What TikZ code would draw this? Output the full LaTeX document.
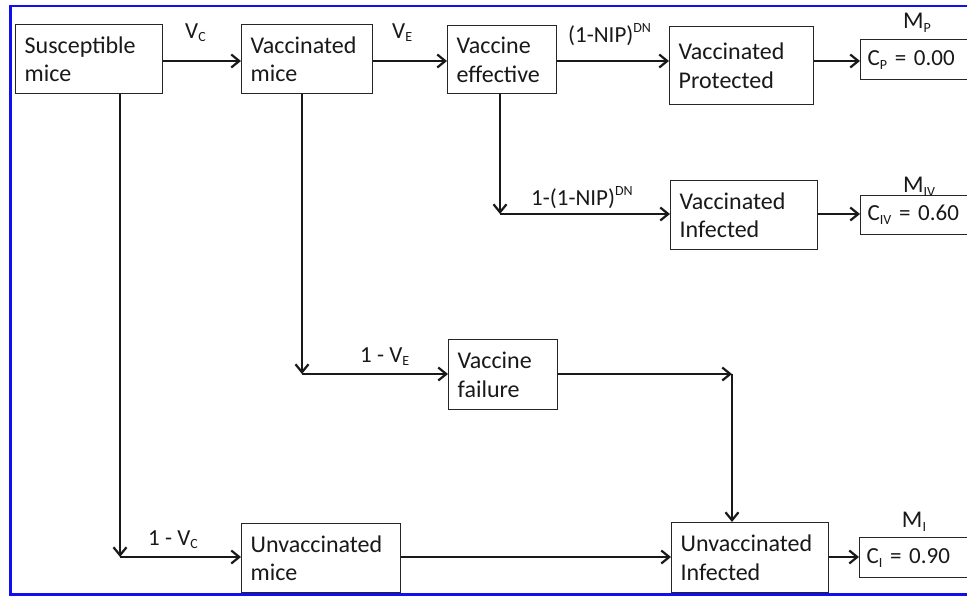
\documentclass[tikz,border=0pt]{standalone}
\usepackage{fontspec}
\setmainfont{Carlito}
\usetikzlibrary{arrows.meta}
\definecolor{frameblue}{RGB}{15,15,240}
\newcommand\lsb[1]{\raisebox{-0.35ex}{\fontsize{14}{14}\selectfont #1}}
\newcommand\lsp[1]{\raisebox{0.85ex}{\fontsize{14}{14}\selectfont #1}}
\begin{document}
\begin{tikzpicture}[x=1pt,y=-1pt,
  box/.style={draw=black!85, line width=1.3pt, anchor=north west, align=left,
    inner xsep=9pt, inner ysep=0pt, text=black!90, font=\fontsize{24}{28.5}\selectfont},
  cbox/.style={box, inner xsep=7pt, text width=120pt, font=\fontsize{23}{27}\selectfont},
  conn/.style={draw=black!90, line width=2.5pt, -{Straight Barb[length=8pt,width=13pt,line width=2.2pt]}},
  lbl/.style={anchor=base west, inner sep=0pt, text=black!90, font=\fontsize{23}{27}\selectfont},
  mlbl/.style={anchor=base, inner sep=0pt, text=black!90, font=\fontsize{24}{27}\selectfont}]
\useasboundingbox (0,0) rectangle (967,597);
\clip (0,0) rectangle (967,597);
\fill[white] (0,0) rectangle (967,597);
\draw[frameblue, line width=2.6pt] (10.5,6) rectangle (1000,594.5);

% boxes
\node[box, text width=129pt, minimum height=69pt] (sus) at (15,24) {Susceptible\\mice};
\node[box, text width=113pt, minimum height=69pt] (vac) at (241,24) {Vaccinated\\mice};
\node[box, text width=91pt, minimum height=68pt] (eff) at (447,25) {Vaccine\\effective};
\node[box, text width=126pt, minimum height=78pt] (prot) at (669,26) {Vaccinated\\Protected};
\node[box, text width=129pt, minimum height=69pt] (inf) at (670,180) {Vaccinated\\Infected};
\node[box, text width=91pt, minimum height=70pt] (fail) at (448,339) {Vaccine\\failure};
\node[box, text width=141pt, minimum height=69pt] (unvm) at (241,523) {Unvaccinated\\mice};
\node[box, text width=139pt, minimum height=70pt] (unvi) at (671,522) {Unvaccinated\\Infected};
\node[cbox, minimum height=40pt] (cp) at (860,39) {C\lsb{P} = 0.00};
\node[cbox, minimum height=39pt] (civ) at (860,195) {C\lsb{IV} = 0.60};
\node[cbox, minimum height=40pt] (ci) at (859,537) {C\lsb{I} = 0.90};

% model labels
\node[mlbl] (mp) at (917,28) {M\lsb{P}};
\node[mlbl] (miv) at (919,192) {M\lsb{IV}};
\node[mlbl] (mi) at (914,527) {M\lsb{I}};

% corner coordinates
\coordinate (r1) at (0,61);
\coordinate (c1) at (500,214);
\coordinate (c2) at (302,374);
\coordinate (c3) at (732,374);
\coordinate (c4) at (120,557);

% connectors
\draw[conn] (sus.east |- r1) -- (vac.west |- r1);
\draw[conn] (vac.east |- r1) -- (eff.west |- r1);
\draw[conn] (eff.east |- r1) -- (prot.west |- r1);
\draw[conn] (prot.east |- r1) -- (cp.west |- r1);

\draw[conn] (eff.south -| c1) -- (c1);
\draw[conn] (c1) -- (inf.west |- c1);
\draw[conn] (inf.east |- c1) -- (civ.west |- c1);

\draw[conn] (vac.south -| c2) -- (c2);
\draw[conn] (c2) -- (fail.west |- c2);
\draw[conn] (fail.east |- c3) -- (c3);
\draw[conn] (c3) -- (unvi.north -| c3);

\draw[conn] (sus.south -| c4) -- (c4);
\draw[conn] (c4) -- (unvm.west |- c4);
\draw[conn] (unvm.east |- c4) -- (unvi.west |- c4);
\draw[conn] (unvi.east |- c4) -- (ci.west |- c4);

% transition labels
\node[lbl] (lvc) at (185,38) {V\lsb{C}};
\node[lbl] (lve) at (392,38) {V\lsb{E}};
\node[lbl] (lnip) at (568,42) {(1-NIP)\lsp{DN}};
\node[lbl] (lnip2) at (531,205) {1-(1-NIP)\lsp{DN}};
\node[lbl] (l1ve) at (360,362) {1 - V\lsb{E}};
\node[lbl] (l1vc) at (148,545) {1 - V\lsb{C}};
\end{tikzpicture}
\end{document}
